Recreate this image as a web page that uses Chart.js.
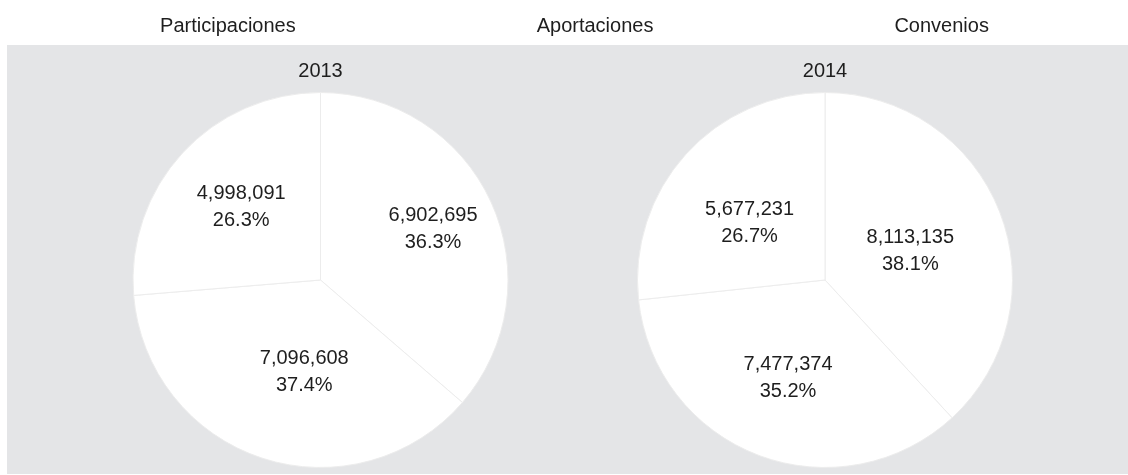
<!DOCTYPE html>
<html>
<head>
<meta charset="utf-8">
<title>Participaciones, Aportaciones y Convenios 2013 - 2014</title>
<script src="https://cdn.jsdelivr.net/npm/chart.js@4"></script>
<style>
  body { margin: 0; background: #fff; overflow: hidden; width: 1128px; height: 475px; position: relative; }
  #legendChart { position: absolute; left: -102px; top: 0; }
  #panel { position: absolute; left: 7px; top: 45px; width: 1121px; height: 429px; background: #e4e5e7; }
  #pie2013 { position: absolute; left: 53px; top: 0; }
  #pie2014 { position: absolute; left: 574px; top: 0; }
</style>
</head>
<body>
<canvas id="legendChart" width="1128" height="100"></canvas>
<div id="panel">
  <canvas id="pie2013" width="521" height="429"></canvas>
  <canvas id="pie2014" width="488" height="429"></canvas>
</div>
<script>
const categories = ['Participaciones', 'Aportaciones', 'Convenios'];
const years = ['2013', '2014'];
const values2013 = [6902695, 7096608, 4998091];
const values2014 = [8113135, 7477374, 5677231];

// where the text sits in each slice: [share of the slice angle, share of the radius]
const labelSpots2013 = [[0.5, 0.66], [0.44, 0.5], [0.5, 0.575]];
const labelSpots2014 = [[0.52, 0.48], [0.5, 0.56], [0.45, 0.505]];

; ((D) => {
  Chart.defaults.font.family = "'Liberation Sans', Arial, sans-serif";
  Chart.defaults.color = '#1e1e1e';

  // value + percent inside each slice
  const sliceLabels = {
    id: 'sliceLabels',
    afterDatasetsDraw(chart, args, opts) {
      const ctx = chart.ctx;
      const meta = chart.getDatasetMeta(0);
      const data = chart.data.datasets[0].data;
      const total = data.reduce((a, b) => a + b, 0);
      ctx.save();
      ctx.font = "20px " + Chart.defaults.font.family;
      ctx.fillStyle = '#1e1e1e';
      ctx.textAlign = 'center';
      ctx.textBaseline = 'middle';
      meta.data.forEach((arc, i) => {
        const p = arc.getProps(['x', 'y', 'startAngle', 'endAngle', 'outerRadius'], true);
        const spot = opts.spots[i];
        const a = p.startAngle + (p.endAngle - p.startAngle) * spot[0];
        const r = p.outerRadius * spot[1];
        const x = p.x + Math.cos(a) * r;
        const y = p.y + Math.sin(a) * r;
        ctx.fillText(data[i].toLocaleString('en-US'), x, y - 13.5);
        ctx.fillText((data[i] / total * 100).toFixed(1) + '%', x, y + 13.5);
      });
      ctx.restore();
    }
  };

  // legend only, slices have radius 0 and the panel covers the rest
  new Chart(D.querySelector('#legendChart'), {
    type: 'pie',
    data: {
      labels: categories,
      datasets: [{ data: values2013, backgroundColor: '#ffffff', borderWidth: 0 }],
    },
    options: {
      responsive: false,
      animation: false,
      events: [],
      radius: 0,
      plugins: {
        tooltip: { enabled: false },
        legend: {
          position: 'top',
          labels: { boxWidth: 215, padding: 16, color: '#1e1e1e', font: { size: 20 } }
        }
      }
    }
  });

  let makePie = (id, year, values, spots) => new Chart(D.querySelector(id), {
    type: 'pie',
    data: {
      labels: categories,
      datasets: [{
        data: values,
        backgroundColor: '#ffffff',
        borderColor: '#ececec',
        borderWidth: 1,
      }],
    },
    options: {
      responsive: false,
      animation: false,
      events: [],
      layout: { padding: { bottom: 6 } },
      plugins: {
        legend: { display: false },
        tooltip: { enabled: false },
        title: {
          display: true,
          text: year,
          color: '#1e1e1e',
          font: { size: 20, weight: 'normal' },
          padding: { top: 14, bottom: 9 }
        },
        sliceLabels: { spots: spots }
      }
    },
    plugins: [sliceLabels]
  });

  makePie('#pie2013', years[0], values2013, labelSpots2013);
  makePie('#pie2014', years[1], values2014, labelSpots2014);
})(document)
</script>
</body>
</html>
